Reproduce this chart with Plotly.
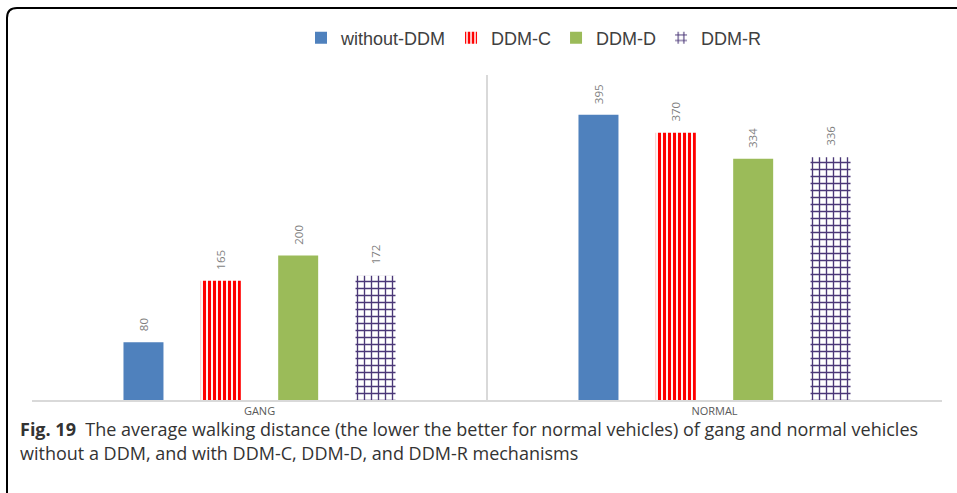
import plotly.graph_objects as go

# Data
groups = ["GANG", "NORMAL"]
series_names = ["without-DDM", "DDM-C", "DDM-D", "DDM-R"]
without_ddm = [80, 395]
ddm_c = [165, 370]
ddm_d = [200, 334]
ddm_r = [172, 336]
series_values = [without_ddm, ddm_c, ddm_d, ddm_r]

caption_bold = "Fig. 19"
caption_line1 = "The average walking distance (the lower the better for normal vehicles) of gang and normal vehicles"
caption_line2 = "without a DDM, and with DDM-C, DDM-D, and DDM-R mechanisms"

# Styling
W, H = 957, 493
M_L, M_R, M_T, M_B = 32, 15, 75, 93
Y_MAX = 450
BARGAP = 0.32
BARGROUPGAP = 0.483

styles = [
    dict(color="#4f81bd", pattern=None),
    dict(color="#ff0000", pattern=dict(shape="|", size=5, solidity=0.62, bgcolor="white",
                                       fgcolor="#ff0000", fgopacity=1)),
    dict(color="#9bbb59", pattern=None),
    dict(color="#4b3878", pattern=dict(shape="+", size=7, solidity=0.35, bgcolor="white",
                                       fgcolor="#4b3878", fgopacity=1)),
]

plot_w = W - M_L - M_R
plot_h = H - M_T - M_B


def px_x(px):
    return (px - M_L) / plot_w


def px_y(py):
    return (H - M_B - py) / plot_h


fig = go.Figure()
for name, vals, st in zip(series_names, series_values, styles):
    marker = dict(color=st["color"], line=dict(width=0))
    if st["pattern"]:
        marker["pattern"] = st["pattern"]
    fig.add_trace(go.Bar(name=name, x=groups, y=vals, marker=marker))

# Rotated value labels above each bar
n = len(series_names)
slot = (1 - BARGAP) / n
annotations = []
for i, vals in enumerate(series_values):
    for g, v in enumerate(vals):
        annotations.append(dict(
            x=g + (i - (n - 1) / 2) * slot, y=v, xref="x", yref="y",
            text=str(v), showarrow=False, textangle=-90,
            yanchor="bottom", xanchor="center", yshift=9,
            font=dict(family="Open Sans", size=11.5, color="#7f7f7f"),
        ))

# Caption
cap_font = dict(family="Open Sans", size=18, color="#333333")
annotations.append(dict(
    x=px_x(18), y=px_y(429), xref="paper", yref="paper",
    xanchor="left", yanchor="middle", showarrow=False, align="left",
    text=f"<b>{caption_bold}</b>  {caption_line1}", font=cap_font,
))
annotations.append(dict(
    x=px_x(18), y=px_y(453), xref="paper", yref="paper",
    xanchor="left", yanchor="middle", showarrow=False, align="left",
    text=caption_line2, font=cap_font,
))

# Rounded frame around the figure
r = 10
x0, y0, x1, y1 = 7, 8, 975, 505
frame_path = (
    f"M {px_x(x0)},{px_y(y1)} "
    f"L {px_x(x0)},{px_y(y0 + r)} "
    f"Q {px_x(x0)},{px_y(y0)} {px_x(x0 + r)},{px_y(y0)} "
    f"L {px_x(x1)},{px_y(y0)}"
)

fig.update_layout(
    width=W, height=H,
    margin=dict(l=M_L, r=M_R, t=M_T, b=M_B),
    paper_bgcolor="white", plot_bgcolor="white",
    barmode="group", bargap=BARGAP, bargroupgap=BARGROUPGAP,
    showlegend=True,
    legend=dict(
        orientation="h", x=px_x(534), y=px_y(38),
        xanchor="center", yanchor="middle",
        font=dict(family="Liberation Sans, Arial", size=18, color="#404040"),
        bgcolor="rgba(0,0,0,0)", itemwidth=30, tracegroupgap=0,
    ),
    xaxis=dict(
        range=[-0.5, 1.5], tickson="boundaries", showgrid=True,
        gridcolor="#d9d9d9", gridwidth=1.5, ticks="",
        showline=True, linecolor="#d9d9d9", linewidth=2,
        tickfont=dict(family="Open Sans", size=11, color="#595959"),
        ticklabelstandoff=0, fixedrange=True,
    ),
    yaxis=dict(range=[0, Y_MAX], visible=False, showgrid=False, zeroline=False),
    annotations=annotations,
    shapes=[dict(type="path", xref="paper", yref="paper", path=frame_path,
                 line=dict(color="black", width=2))],
)

fig.write_html("out.html")
